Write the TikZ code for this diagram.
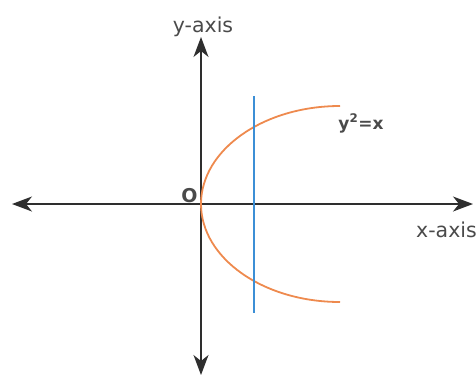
\documentclass[tikz,border=0pt]{standalone}
\usepackage{fontspec}
\setmainfont{DejaVu Sans}
\usetikzlibrary{arrows.meta}
\definecolor{axisgray}{HTML}{2E2E2E}
\definecolor{txtgray}{HTML}{4A4A4A}
\definecolor{curveorange}{HTML}{EE8A4E}
\definecolor{lineblue}{HTML}{3C8FD6}
\begin{document}
\begin{tikzpicture}[x=1pt,y=-1pt,
  axis/.style={draw=axisgray,line width=1.5pt,-{Stealth[length=20pt,width=15pt,inset=6pt]}},
  lbl/.style={text=txtgray,font=\fontsize{20.5}{22}\selectfont,inner sep=0pt,anchor=base},
  blbl/.style={text=txtgray,font=\bfseries,inner sep=0pt,anchor=base}]
\useasboundingbox (0,0) rectangle (476,378);
\coordinate (o) at (201,204);
\coordinate (xl) at (12,204);
\coordinate (xr) at (473,204);
\coordinate (yt) at (201,37);
\coordinate (yb) at (201,375);
\draw[axis] (o) -- (xl);
\draw[axis] (o) -- (xr);
\draw[axis] (o) -- (yt);
\draw[axis] (o) -- (yb);
\coordinate (ptop) at (340,106);
\draw[curveorange,line width=1.8pt] (ptop) arc[start angle=90,end angle=270,x radius=139pt,y radius=98pt];
\coordinate (bt) at (254,96);
\coordinate (bb) at (254,313);
\draw[lineblue,line width=1.8pt] (bt) -- (bb);
\node[lbl] (ylab) at (203,32) {y-axis};
\node[lbl,anchor=base west] (xlab) at (416,237) {x-axis};
\node[blbl,font=\fontsize{19}{20}\selectfont\bfseries] (olab) at (189.5,202) {O};
\node[blbl,font=\fontsize{17}{18}\selectfont\bfseries] (eq) at (361,129) {y\textsuperscript{2}=x};
\end{tikzpicture}
\end{document}
